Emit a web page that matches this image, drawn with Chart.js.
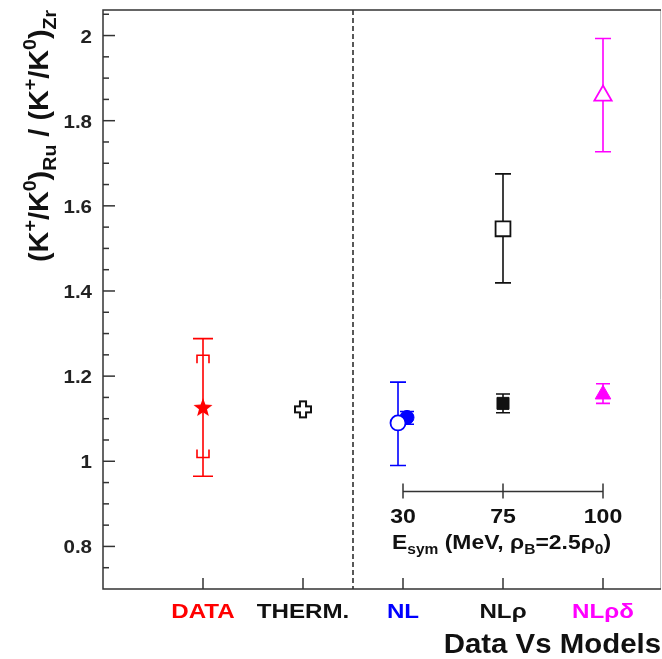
<!DOCTYPE html>
<html>
<head>
<meta charset="utf-8">
<script src="https://cdn.jsdelivr.net/npm/chart.js@4"></script>
<style>
  html, body { margin: 0; padding: 0; background: #fff; overflow: hidden; }
  #ratioChart { display: block; }
</style>
</head>
<body>
<canvas id="ratioChart" width="662" height="659"></canvas>
<script>
// ========== DATA ==========
const categories = ['DATA', 'THERM.', 'NL', 'NLρ', 'NLρδ'];
const categoryX = [1, 2, 3, 4, 5];

const yTicks = [0.8, 1, 1.2, 1.4, 1.6, 1.8, 2];
const yTickLabels = ['0.8', '1', '1.2', '1.4', '1.6', '1.8', '2'];

// measured ratio (star) with stat error and systematic brackets
const dataValue = 1.125;
const dataStatErr = [0.965, 1.288];
const dataSysErr = [1.009, 1.249];

// thermal model
const thermValue = 1.122;

// transport models, open markers (NL, NLρ, NLρδ)
const openX = [2.95, 4, 5];
const openValues = [1.090, 1.546, 1.859];
const openLow = [0.990, 1.419, 1.727];
const openHigh = [1.186, 1.675, 1.993];

// transport models, filled markers
const filledX = [3.04, 4, 5];
const filledValues = [1.103, 1.136, 1.157];
const filledLow = [1.087, 1.114, 1.136];
const filledHigh = [1.117, 1.158, 1.182];

// inner E_sym axis
const esymX = [3, 4, 5];
const esymLabels = ['30', '75', '100'];
const esymAxisY = 0.929;

const FONT = '"Liberation Sans", Arial, sans-serif';
const catColors = ['#ff0000', '#111111', '#0000ff', '#111111', '#ff00ff'];
const modelColors = ['#0000ff', '#111111', '#ff00ff'];

// ---------- custom marker images ----------
function makeStar(r, color) {
    const c = document.createElement('canvas');
    c.width = c.height = r * 2 + 2;
    const g = c.getContext('2d');
    g.translate(r + 1, r + 1);
    g.beginPath();
    for (let i = 0; i < 10; i++) {
        const rad = i % 2 === 0 ? r : r * 0.42;
        const a = -Math.PI / 2 + i * Math.PI / 5;
        g.lineTo(rad * Math.cos(a), rad * Math.sin(a));
    }
    g.closePath();
    g.fillStyle = color;
    g.fill();
    return c;
}

function makeOpenCross(r, color) {
    const c = document.createElement('canvas');
    c.width = c.height = r * 2 + 4;
    const g = c.getContext('2d');
    g.translate(r + 2, r + 2);
    const w = r * 0.38;
    g.beginPath();
    g.moveTo(-w, -r); g.lineTo(w, -r); g.lineTo(w, -w); g.lineTo(r, -w);
    g.lineTo(r, w); g.lineTo(w, w); g.lineTo(w, r); g.lineTo(-w, r);
    g.lineTo(-w, w); g.lineTo(-r, w); g.lineTo(-r, -w); g.lineTo(-w, -w);
    g.closePath();
    g.fillStyle = '#fff';
    g.fill();
    g.lineWidth = 2;
    g.strokeStyle = color;
    g.stroke();
    return c;
}

// ---------- text helpers ----------
function drawRich(ctx, parts, size, sx) {
    // draws at current origin, baseline alphabetic, left to right
    let x = 0;
    parts.forEach(p => {
        const fs = p.s ? size * 0.68 : size;
        ctx.font = `bold ${fs}px ${FONT}`;
        const dy = p.s === 1 ? -size * 0.42 : (p.s === -1 ? size * 0.28 : 0);
        ctx.save();
        ctx.scale(sx, 1);
        ctx.fillText(p.t, x / sx, dy);
        ctx.restore();
        x += ctx.measureText(p.t).width * sx;
    });
    return x;
}

function drawText(ctx, text, x, y, size, color, align, sx) {
    ctx.save();
    ctx.font = `bold ${size}px ${FONT}`;
    ctx.fillStyle = color;
    ctx.textBaseline = 'alphabetic';
    const w = ctx.measureText(text).width * sx;
    let x0 = x;
    if (align === 'center') x0 = x - w / 2;
    if (align === 'right') x0 = x - w;
    ctx.translate(x0, y);
    ctx.scale(sx, 1);
    ctx.fillText(text, 0, 0);
    ctx.restore();
}

// ---------- frame, ticks, labels ----------
const framePlugin = {
    id: 'frame',
    beforeDatasetsDraw(chart) {
        const { ctx, chartArea: a, scales: { x, y } } = chart;
        ctx.save();

        // dashed separator between data/thermal and transport
        ctx.strokeStyle = '#222';
        ctx.lineWidth = 1.5;
        ctx.setLineDash([5, 3]);
        ctx.beginPath();
        ctx.moveTo(x.getPixelForValue(2.5), a.top);
        ctx.lineTo(x.getPixelForValue(2.5), a.bottom);
        ctx.stroke();
        ctx.setLineDash([]);

        // left axis ticks (inward)
        ctx.strokeStyle = '#333';
        ctx.lineWidth = 1.5;
        for (let v = 0.75; v <= 2.06; v += 0.05) {
            const py = y.getPixelForValue(v);
            const major = yTicks.some(t => Math.abs(t - v) < 1e-6);
            ctx.beginPath();
            ctx.moveTo(a.left, py);
            ctx.lineTo(a.left + (major ? 12 : 6), py);
            ctx.stroke();
        }
        // bottom axis ticks
        categoryX.forEach(c => {
            const px = x.getPixelForValue(c);
            ctx.beginPath();
            ctx.moveTo(px, a.bottom);
            ctx.lineTo(px, a.bottom - 11);
            ctx.stroke();
        });

        // frame
        ctx.strokeStyle = '#bbb';
        ctx.lineWidth = 1;
        ctx.beginPath();
        ctx.moveTo(a.right - 0.5, a.top);
        ctx.lineTo(a.right - 0.5, a.bottom);
        ctx.stroke();
        ctx.strokeStyle = '#333';
        ctx.lineWidth = 1.5;
        ctx.beginPath();
        ctx.moveTo(a.right, a.top);
        ctx.lineTo(a.left, a.top);
        ctx.lineTo(a.left, a.bottom);
        ctx.lineTo(a.right, a.bottom);
        ctx.stroke();

        // y tick labels
        yTicks.forEach((v, i) => {
            drawText(ctx, yTickLabels[i], a.left - 11, y.getPixelForValue(v) + 7, 19, '#222', 'right', 1.08);
        });

        // category labels
        categories.forEach((c, i) => {
            drawText(ctx, c, x.getPixelForValue(categoryX[i]), 618, 21, catColors[i], 'center', 1.15);
        });
        drawText(ctx, 'Data Vs Models', 661, 653, 28, '#111', 'right', 1.05);

        // y axis title
        ctx.fillStyle = '#111';
        ctx.translate(48, 262);
        ctx.rotate(-Math.PI / 2);
        drawRich(ctx, [
            { t: '(K' }, { t: '+', s: 1 }, { t: '/K' }, { t: '0', s: 1 }, { t: ')' }, { t: 'Ru', s: -1 },
            { t: ' / (K' }, { t: '+', s: 1 }, { t: '/K' }, { t: '0', s: 1 }, { t: ')' }, { t: 'Zr', s: -1 }
        ], 28, 1.03);
        ctx.restore();

        // inner E_sym axis
        ctx.save();
        const iy = y.getPixelForValue(esymAxisY);
        ctx.strokeStyle = '#333';
        ctx.lineWidth = 1.5;
        ctx.beginPath();
        ctx.moveTo(x.getPixelForValue(esymX[0]), iy);
        ctx.lineTo(x.getPixelForValue(esymX[esymX.length - 1]), iy);
        ctx.stroke();
        esymX.forEach((v, i) => {
            const px = x.getPixelForValue(v);
            ctx.beginPath();
            ctx.moveTo(px, iy - 8);
            ctx.lineTo(px, iy + 7);
            ctx.stroke();
            drawText(ctx, esymLabels[i], px, iy + 31, 21, '#111', 'center', 1.1);
        });
        ctx.fillStyle = '#111';
        ctx.translate(392, iy + 57);
        drawRich(ctx, [
            { t: 'E' }, { t: 'sym', s: -1 }, { t: ' (MeV, ρ' }, { t: 'B', s: -1 },
            { t: '=2.5ρ' }, { t: '0', s: -1 }, { t: ')' }
        ], 21, 1.09);
        ctx.restore();

        // error bars
        ctx.save();
        ctx.lineWidth = 1.6;
        function bar(xv, lo, hi, color, cap) {
            const px = x.getPixelForValue(xv);
            const pl = y.getPixelForValue(lo), ph = y.getPixelForValue(hi);
            ctx.strokeStyle = color;
            ctx.beginPath();
            ctx.moveTo(px, pl); ctx.lineTo(px, ph);
            ctx.moveTo(px - cap, pl); ctx.lineTo(px + cap, pl);
            ctx.moveTo(px - cap, ph); ctx.lineTo(px + cap, ph);
            ctx.stroke();
        }
        bar(1, dataStatErr[0], dataStatErr[1], '#ff0000', 10);
        // systematic brackets
        const dx = x.getPixelForValue(1);
        const sLo = y.getPixelForValue(dataSysErr[0]), sHi = y.getPixelForValue(dataSysErr[1]);
        ctx.strokeStyle = '#ff0000';
        ctx.beginPath();
        ctx.moveTo(dx - 6, sHi + 8); ctx.lineTo(dx - 6, sHi); ctx.lineTo(dx + 6, sHi); ctx.lineTo(dx + 6, sHi + 8);
        ctx.moveTo(dx - 6, sLo - 8); ctx.lineTo(dx - 6, sLo); ctx.lineTo(dx + 6, sLo); ctx.lineTo(dx + 6, sLo - 8);
        ctx.stroke();
        openX.forEach((v, i) => bar(v, openLow[i], openHigh[i], modelColors[i], 8));
        filledX.forEach((v, i) => bar(v, filledLow[i], filledHigh[i], modelColors[i], 7));
        ctx.restore();
    }
};

const starImg = makeStar(10, '#ff0000');
const crossImg = makeOpenCross(8, '#111');

new Chart(document.getElementById('ratioChart'), {
    type: 'scatter',
    data: {
        datasets: [
            {
                label: 'Data',
                data: [{ x: 1, y: dataValue }],
                pointStyle: starImg
            },
            {
                label: 'Thermal',
                data: [{ x: 2, y: thermValue }],
                pointStyle: crossImg
            },
            {
                label: 'Open',
                data: openX.map((v, i) => ({ x: v, y: openValues[i] })),
                pointStyle: ['circle', 'rect', 'triangle'],
                pointRadius: [7.5, 10.5, 10],
                pointBorderWidth: 1.8,
                pointBorderColor: modelColors,
                pointBackgroundColor: '#fff'
            },
            {
                label: 'Filled',
                data: filledX.map((v, i) => ({ x: v, y: filledValues[i] })),
                pointStyle: ['circle', 'rect', 'triangle'],
                pointRadius: [7, 8.5, 9],
                pointBorderWidth: 1,
                pointBorderColor: modelColors,
                pointBackgroundColor: modelColors
            }
        ]
    },
    options: {
        responsive: false,
        animation: false,
        devicePixelRatio: 1,
        layout: { autoPadding: false, padding: { left: 103, top: 10, right: 1, bottom: 70 } },
        plugins: { legend: { display: false }, tooltip: { enabled: false } },
        scales: {
            x: { type: 'linear', min: 0, max: 5.58, display: false },
            y: { min: 0.7, max: 2.06, display: false }
        }
    },
    plugins: [framePlugin]
});
</script>
</body>
</html>
